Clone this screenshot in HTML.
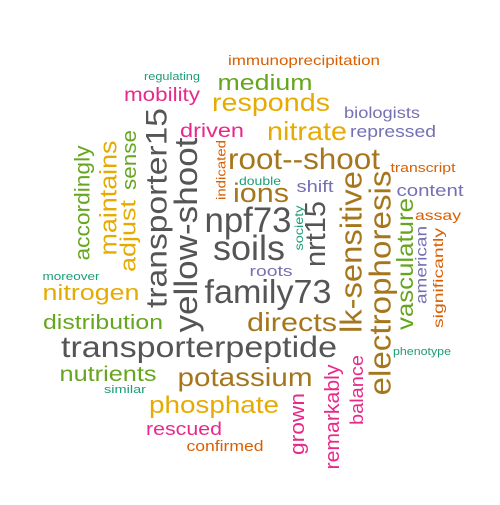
<!DOCTYPE html>
<html><head><meta charset="utf-8"><style>
html,body{margin:0;padding:0;background:#fff;}
svg text{font-family:"Liberation Sans",Arial,sans-serif;}
</style></head><body>
<svg width="500" height="500" viewBox="0 0 500 500">
<rect width="500" height="500" fill="#fff"/>
<g text-anchor="middle">
<text x="304" y="65" font-size="14" fill="#D95F02" textLength="152" lengthAdjust="spacingAndGlyphs">immunoprecipitation</text>
<text x="172" y="80" font-size="11" fill="#1B9E77" textLength="56" lengthAdjust="spacingAndGlyphs">regulating</text>
<text x="265" y="90" font-size="22" fill="#66A61E" textLength="95" lengthAdjust="spacingAndGlyphs">medium</text>
<text x="162" y="101" font-size="19" fill="#E7298A" textLength="76" lengthAdjust="spacingAndGlyphs">mobility</text>
<text x="271" y="111" font-size="25" fill="#E6AB02" textLength="118" lengthAdjust="spacingAndGlyphs">responds</text>
<text x="382" y="118" font-size="16" fill="#7570B3" textLength="76" lengthAdjust="spacingAndGlyphs">biologists</text>
<text x="212" y="137" font-size="19" fill="#E7298A" textLength="64" lengthAdjust="spacingAndGlyphs">driven</text>
<text x="307" y="140" font-size="26" fill="#E6AB02" textLength="80" lengthAdjust="spacingAndGlyphs">nitrate</text>
<text x="393" y="137" font-size="17" fill="#7570B3" textLength="86" lengthAdjust="spacingAndGlyphs">repressed</text>
<text x="304" y="169" font-size="30" fill="#A6761D" textLength="152" lengthAdjust="spacingAndGlyphs">root--shoot</text>
<text x="423" y="172" font-size="13" fill="#D95F02" textLength="65" lengthAdjust="spacingAndGlyphs">transcript</text>
<text x="260" y="185" font-size="12" fill="#1B9E77" textLength="42" lengthAdjust="spacingAndGlyphs">double</text>
<text x="315" y="192" font-size="17" fill="#7570B3" textLength="37" lengthAdjust="spacingAndGlyphs">shift</text>
<text x="430" y="196" font-size="17" fill="#7570B3" textLength="67" lengthAdjust="spacingAndGlyphs">content</text>
<text x="261" y="202" font-size="27" fill="#A6761D" textLength="56" lengthAdjust="spacingAndGlyphs">ions</text>
<text x="438" y="220" font-size="14" fill="#D95F02" textLength="46" lengthAdjust="spacingAndGlyphs">assay</text>
<text x="248" y="232" font-size="35" fill="#555555" textLength="87" lengthAdjust="spacingAndGlyphs">npf73</text>
<text x="249" y="260" font-size="35" fill="#555555" textLength="72" lengthAdjust="spacingAndGlyphs">soils</text>
<text x="271" y="276" font-size="15" fill="#7570B3" textLength="43" lengthAdjust="spacingAndGlyphs">roots</text>
<text x="268" y="303" font-size="33" fill="#555555" textLength="127" lengthAdjust="spacingAndGlyphs">family73</text>
<text x="71" y="280" font-size="11" fill="#1B9E77" textLength="57" lengthAdjust="spacingAndGlyphs">moreover</text>
<text x="91" y="300" font-size="22" fill="#E6AB02" textLength="97" lengthAdjust="spacingAndGlyphs">nitrogen</text>
<text x="103" y="329" font-size="20" fill="#66A61E" textLength="120" lengthAdjust="spacingAndGlyphs">distribution</text>
<text x="292" y="331" font-size="26" fill="#A6761D" textLength="90" lengthAdjust="spacingAndGlyphs">directs</text>
<text x="199" y="357" font-size="30" fill="#555555" textLength="276" lengthAdjust="spacingAndGlyphs">transporterpeptide</text>
<text x="422" y="355" font-size="11" fill="#1B9E77" textLength="58" lengthAdjust="spacingAndGlyphs">phenotype</text>
<text x="108" y="381" font-size="21" fill="#66A61E" textLength="97" lengthAdjust="spacingAndGlyphs">nutrients</text>
<text x="245" y="386" font-size="26" fill="#A6761D" textLength="135" lengthAdjust="spacingAndGlyphs">potassium</text>
<text x="125" y="393" font-size="11" fill="#1B9E77" textLength="42" lengthAdjust="spacingAndGlyphs">similar</text>
<text x="214" y="413" font-size="24" fill="#E6AB02" textLength="130" lengthAdjust="spacingAndGlyphs">phosphate</text>
<text x="184" y="435" font-size="18" fill="#E7298A" textLength="76" lengthAdjust="spacingAndGlyphs">rescued</text>
<text x="225" y="451" font-size="15" fill="#D95F02" textLength="77" lengthAdjust="spacingAndGlyphs">confirmed</text>
</g>
<g text-anchor="middle" dominant-baseline="central">
<text transform="translate(83,203) rotate(-90)" font-size="21" fill="#66A61E" textLength="115" lengthAdjust="spacingAndGlyphs">accordingly</text>
<text transform="translate(109,198) rotate(-90)" font-size="24" fill="#E6AB02" textLength="115" lengthAdjust="spacingAndGlyphs">maintains</text>
<text transform="translate(128,236) rotate(-90)" font-size="22" fill="#E6AB02" textLength="72" lengthAdjust="spacingAndGlyphs">adjust</text>
<text transform="translate(130,160) rotate(-90)" font-size="20" fill="#66A61E" textLength="60" lengthAdjust="spacingAndGlyphs">sense</text>
<text transform="translate(157,208) rotate(-90)" font-size="30" fill="#555555" textLength="200" lengthAdjust="spacingAndGlyphs">transporter15</text>
<text transform="translate(186,235) rotate(-90)" font-size="32" fill="#555555" textLength="195" lengthAdjust="spacingAndGlyphs">yellow-shoot</text>
<text transform="translate(221,170) rotate(-90)" font-size="13" fill="#D95F02" textLength="60" lengthAdjust="spacingAndGlyphs">indicated</text>
<text transform="translate(299,228) rotate(-90)" font-size="12" fill="#1B9E77" textLength="45" lengthAdjust="spacingAndGlyphs">society</text>
<text transform="translate(316,234) rotate(-90)" font-size="29" fill="#555555" textLength="66" lengthAdjust="spacingAndGlyphs">nrt15</text>
<text transform="translate(351,252) rotate(-90)" font-size="31" fill="#A6761D" textLength="162" lengthAdjust="spacingAndGlyphs">lk-sensitive</text>
<text transform="translate(380,283) rotate(-90)" font-size="31" fill="#A6761D" textLength="225" lengthAdjust="spacingAndGlyphs">electrophoresis</text>
<text transform="translate(405,264) rotate(-90)" font-size="23" fill="#66A61E" textLength="132" lengthAdjust="spacingAndGlyphs">vasculature</text>
<text transform="translate(422,265) rotate(-90)" font-size="16" fill="#7570B3" textLength="78" lengthAdjust="spacingAndGlyphs">american</text>
<text transform="translate(438,278) rotate(-90)" font-size="14" fill="#D95F02" textLength="100" lengthAdjust="spacingAndGlyphs">significantly</text>
<text transform="translate(298,424) rotate(-90)" font-size="20" fill="#E7298A" textLength="62" lengthAdjust="spacingAndGlyphs">grown</text>
<text transform="translate(333,417) rotate(-90)" font-size="20" fill="#E7298A" textLength="105" lengthAdjust="spacingAndGlyphs">remarkably</text>
<text transform="translate(357,390) rotate(-90)" font-size="18" fill="#E7298A" textLength="70" lengthAdjust="spacingAndGlyphs">balance</text>
</g>
</svg>
</body></html>
